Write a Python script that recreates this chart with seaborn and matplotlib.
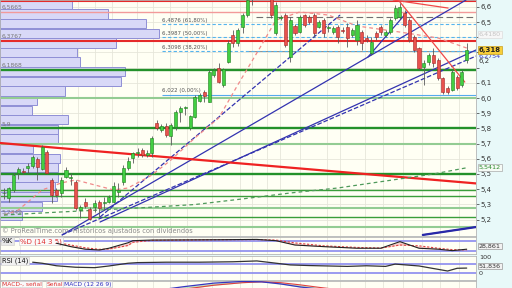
import matplotlib
matplotlib.use("Agg")
import matplotlib.pyplot as plt
import numpy as np
import pandas as pd
import seaborn as sns

sns.set_style("white")
plt.rcParams['font.family'] = ['DejaVu Sans', 'Liberation Sans']

# ---------------- price data (daily candles) ----------------
opens = [5.372, 5.342, 5.395, 5.507, 5.520, 5.540, 5.553, 5.599, 5.533, 5.645,
         5.461, 5.395, 5.375, 5.480, 5.474, 5.447, 5.263, 5.316, 5.270, 5.283,
         5.316, 5.309, 5.316, 5.316, 5.382, 5.447, 5.540, 5.605, 5.638, 5.658,
         5.625, 5.638, 5.836, 5.790, 5.816, 5.750, 5.809, 5.908, 5.934, 5.803,
         5.875, 5.980, 6.040, 5.974, 6.152, 6.198, 6.086, 6.237, 6.415, 6.362,
         6.467, 6.546, 6.711, 6.678, 6.763, 6.711, 6.698, 6.428, 6.527, 6.546,
         6.270, 6.474, 6.434, 6.546, 6.533, 6.546, 6.467, 6.513, 6.461, 6.434,
         6.467, 6.448, 6.467, 6.415, 6.382, 6.434, 6.395, 6.296, 6.428, 6.467,
         6.415, 6.434, 6.527, 6.533, 6.559, 6.513, 6.402, 6.329, 6.204, 6.237,
         6.283, 6.250, 6.132, 6.066, 6.053, 6.138, 6.086, 6.250]
highs = [5.408, 5.415, 5.507, 5.546, 5.540, 5.572, 5.625, 5.612, 5.691, 5.658,
         5.474, 5.408, 5.480, 5.546, 5.507, 5.461, 5.296, 5.342, 5.283, 5.329,
         5.329, 5.349, 5.362, 5.447, 5.441, 5.559, 5.612, 5.645, 5.671, 5.671,
         5.658, 5.750, 5.855, 5.829, 5.836, 5.836, 5.921, 5.948, 5.948, 5.888,
         6.020, 6.033, 6.053, 6.184, 6.198, 6.230, 6.198, 6.382, 6.448, 6.461,
         6.559, 6.665, 6.744, 6.829, 6.809, 6.829, 6.711, 6.632, 6.546, 6.559,
         6.533, 6.487, 6.546, 6.553, 6.546, 6.559, 6.513, 6.527, 6.481, 6.474,
         6.481, 6.467, 6.494, 6.461, 6.513, 6.448, 6.415, 6.402, 6.441, 6.481,
         6.448, 6.527, 6.612, 6.625, 6.579, 6.527, 6.415, 6.336, 6.250, 6.296,
         6.329, 6.263, 6.138, 6.079, 6.184, 6.152, 6.184, 6.362]
lows = [5.336, 5.316, 5.382, 5.467, 5.500, 5.507, 5.540, 5.461, 5.526, 5.500,
        5.309, 5.349, 5.349, 5.474, 5.428, 5.263, 5.211, 5.276, 5.197, 5.250,
        5.217, 5.263, 5.309, 5.309, 5.349, 5.428, 5.526, 5.572, 5.612, 5.612,
        5.612, 5.612, 5.790, 5.776, 5.744, 5.691, 5.790, 5.842, 5.888, 5.790,
        5.869, 5.974, 5.974, 5.974, 6.138, 6.099, 6.073, 6.230, 6.336, 6.342,
        6.428, 6.533, 6.612, 6.658, 6.678, 6.698, 6.527, 6.415, 6.513, 6.336,
        6.237, 6.415, 6.428, 6.467, 6.487, 6.402, 6.461, 6.402, 6.434, 6.421,
        6.362, 6.428, 6.336, 6.402, 6.349, 6.316, 6.369, 6.283, 6.382, 6.415,
        6.402, 6.421, 6.513, 6.520, 6.467, 6.369, 6.303, 6.184, 6.086, 6.217,
        6.204, 6.119, 6.026, 6.026, 6.046, 6.053, 6.073, 6.230]
closes = [5.375, 5.408, 5.494, 5.533, 5.513, 5.553, 5.612, 5.546, 5.678, 5.507,
          5.362, 5.362, 5.461, 5.526, 5.480, 5.276, 5.283, 5.290, 5.204, 5.309,
          5.276, 5.316, 5.349, 5.421, 5.395, 5.540, 5.586, 5.638, 5.645, 5.625,
          5.638, 5.737, 5.803, 5.816, 5.757, 5.822, 5.908, 5.934, 5.941, 5.882,
          6.007, 6.020, 6.013, 6.171, 6.184, 6.105, 6.191, 6.362, 6.362, 6.448,
          6.546, 6.645, 6.658, 6.777, 6.698, 6.809, 6.546, 6.612, 6.533, 6.349,
          6.513, 6.428, 6.533, 6.481, 6.500, 6.428, 6.500, 6.428, 6.467, 6.461,
          6.402, 6.441, 6.395, 6.448, 6.481, 6.362, 6.382, 6.369, 6.402, 6.434,
          6.434, 6.513, 6.592, 6.599, 6.481, 6.382, 6.316, 6.198, 6.230, 6.283,
          6.230, 6.132, 6.040, 6.040, 6.171, 6.066, 6.171, 6.318]

# ---------------- volume by price ----------------
vp_price = [6.615, 6.552, 6.489, 6.425, 6.362, 6.299, 6.236, 6.173, 6.110, 6.047,
            5.983, 5.920, 5.857, 5.794, 5.731, 5.668, 5.604, 5.541, 5.478, 5.415,
            5.352, 5.288, 5.225]
vp_volume = [72, 108, 146, 159, 116, 77, 80, 125, 121, 65,
             37, 32, 68, 58, 58, 33, 60, 58, 58, 55,
             57, 42, 22]
vp_label_price = [6.5665, 6.3767, 6.1868, 5.797, 5.217]
vp_label_text = ["6,5665", "6,3767", "6,1868", "5,9", "5,2349"]

# ---------------- horizontal levels ----------------
red_levels = [6.638, 6.3767]
light_red_levels = [6.5665]
green_levels = [6.1868, 5.8, 5.5, 5.395, 5.355, 5.217]
light_green_levels = [6.0, 5.7, 5.276, 5.151]
fib_levels = [6.4876, 6.3987, 6.3098, 6.022]
fib_text = ["6,4876 (61,80%)", "6,3987 (50,00%)", "6,3098 (38,20%)", "6,022 (0,00%)"]
fib_start = 33.1

# ---------------- trend lines (index, price) ----------------
blue_x0 = [12.16, 20.13, 20.13, 12.16, 76.3, 87.8]
blue_y0 = [5.099, 5.184, 5.217, 5.099, 6.270, 5.099]
blue_x1 = [96.86, 98.95, 70.44, 98.95, 84.5, 98.95]
blue_y1 = [6.645, 6.316, 6.546, 6.276, 6.566, 5.151]
blue_style = ['-', '-', '--', '--', '-', '-']
red_x0 = [-0.84, 83.0, 81.6]
red_y0 = [5.704, 6.632, 6.645]
red_x1 = [98.95, 96.6, 93.1]
red_y1 = [5.438, 6.105, 6.592]

# ---------------- moving averages ----------------
ma_short_idx = [0, 3, 8, 12, 15, 19, 23, 26, 31, 35, 40, 45, 49, 54, 57, 62, 68, 74, 83, 91, 97]
ma_short_val = [5.230, 5.263, 5.395, 5.441, 5.461, 5.428, 5.395, 5.408, 5.493, 5.592,
                5.737, 5.868, 6.086, 6.349, 6.513, 6.566, 6.546, 6.474, 6.434, 6.395, 6.329]
ma_long_idx = [0, 10, 20, 30, 40, 50, 60, 70, 80, 90, 97]
ma_long_val = [5.230, 5.247, 5.263, 5.280, 5.299, 5.336, 5.375, 5.408, 5.454, 5.500, 5.541]

# ---------------- indicators ----------------
stoch_idx = [11, 14, 17, 20, 22, 26, 27, 31, 45, 53, 57, 61, 67, 74, 79, 83, 87, 91, 94, 97]
stoch_k = [66, 45, 29, 24, 35, 69, 82, 86, 88, 90, 82, 55, 45, 35, 35, 76, 35, 29, 20, 29]
stoch_d = [70, 55, 38, 28, 30, 52, 72, 84, 88, 89, 86, 68, 50, 40, 36, 55, 50, 35, 26, 25]
rsi_idx = [6, 8, 11, 15, 19, 22, 26, 28, 34, 41, 48, 53, 56, 60, 64, 68, 72, 76, 80, 82,
           87, 91, 93, 95, 97]
rsi_val = [80, 75, 63, 56, 54, 62, 75, 78, 80, 80, 82, 86, 78, 67, 64, 62, 60, 63, 60, 71,
           62, 46, 38, 51, 52]
macd_idx = [30, 38, 44, 50, 54, 58, 62, 66, 72, 80, 90, 97]
macd_val = [-0.2, 0.4, 0.8, 1.0, 0.95, 0.7, 0.35, 0.1, -0.3, -0.6, -0.8, -0.7]
macd_sig = [-0.4, 0.1, 0.55, 0.85, 0.95, 0.85, 0.6, 0.3, -0.1, -0.4, -0.7, -0.75]

price_ticks = [5.2, 5.3, 5.4, 5.5, 5.6, 5.7, 5.8, 5.9, 6.0, 6.1, 6.2, 6.3, 6.4, 6.5, 6.6]
hidden_ticks = [6.2, 6.3, 6.4]
grid_idx = [3.4, 12.2, 15.5, 19.1, 22.6, 27.9, 31.2, 34.8, 38.4, 43.6, 49.5, 52.0,
            55.1, 57.9, 62.0, 67.7, 70.4, 75.7, 79.5, 83.6, 87.6, 91.4, 95.3]

# ---------------- figure ----------------
W, H = 512, 288
fig = plt.figure(figsize=(5.12, 2.88), dpi=100)
fig.patch.set_facecolor('#e8f9f9')


def rect(x0, y0, x1, y1):
    return [x0 / W, 1 - y1 / H, (x1 - x0) / W, (y1 - y0) / H]


ax = fig.add_axes(rect(0, 0, 476, 236))
ax2 = fig.add_axes(rect(0, 237, 476, 254), sharex=ax)
ax3 = fig.add_axes(rect(0, 256, 476, 280), sharex=ax)
ax4 = fig.add_axes(rect(0, 281, 476, 300), sharex=ax)
XL = (-0.84, 98.95)
bg = '#fffff4'
for a in (ax, ax2, ax3, ax4):
    a.set_facecolor(bg)
    for s in a.spines.values():
        s.set_color('#b5b5b5')
        s.set_linewidth(0.6)

# grid
ax.set_xticks(grid_idx)
ax.set_yticks(price_ticks)
ax.set_yticklabels(['' if t in hidden_ticks else f"{t:.1f}".replace('.', ',') for t in price_ticks])
ax.yaxis.tick_right()
ax.tick_params(axis='y', labelsize=5, colors='#333333', length=2, width=0.5, pad=1)
ax.tick_params(axis='x', bottom=False, labelbottom=False)
ax.grid(True, color='#e6e6da', lw=0.6)
ax.set_axisbelow(True)
ax.set_ylim(5.092, 6.645)
ax.set_xlim(*XL)

# volume profile
scale = (XL[1] - XL[0]) / 476.0
ax.barh(vp_price, [v * scale for v in vp_volume], left=XL[0], height=0.0615,
        color='#d8d8f7', edgecolor='#8f8fd6', linewidth=0.7, zorder=1)
for p, t in zip(vp_label_price, vp_label_text):
    ax.annotate(t, (XL[0] + 0.3, p), xytext=(0, 1.5), textcoords='offset points',
                fontsize=4.3, color='#777777', va='bottom', ha='left', zorder=6)

# horizontal levels
for lv in red_levels:
    ax.axhline(lv, color='#e52a2a', lw=1.5, zorder=2)
for lv in light_red_levels:
    ax.axhline(lv, color='#f29a9a', lw=1.0, zorder=2)
for lv in green_levels[:3]:
    ax.axhline(lv, color='#23912a', lw=1.7, zorder=2)
for lv in green_levels[3:]:
    ax.axhline(lv, color='#3a9e3a', lw=1.0, zorder=2)
for lv in light_green_levels:
    ax.axhline(lv, color='#93cc93', lw=1.5, zorder=2)

# fibonacci
ax.hlines(fib_levels[2], 51, XL[1], color='#909090', lw=0.7, zorder=2)
ax.hlines(6.533, 52.8, XL[1], color='#707070', lw=0.8, linestyles=(0, (6, 3)), zorder=2)
for lv, t in zip(fib_levels[:3], fib_text[:3]):
    ax.hlines(lv, fib_start, XL[1], color='#55b4ee', lw=0.8, linestyles=(0, (3, 2)), zorder=2)
    ax.annotate(t, (fib_start, lv), xytext=(0, 1), textcoords='offset points',
                fontsize=3.9, color='#555555', va='bottom', ha='left', zorder=6)
ax.hlines(fib_levels[3], fib_start, XL[1], color='#55aaee', lw=0.8, zorder=2)
ax.annotate(fib_text[3], (fib_start, fib_levels[3]), xytext=(0, 1), textcoords='offset points',
            fontsize=3.9, color='#555555', va='bottom', ha='left', zorder=6)

# trend lines
for x0, y0, x1, y1, st in zip(blue_x0, blue_y0, blue_x1, blue_y1, blue_style):
    ax.plot([x0, x1], [y0, y1], color='#3333b0', lw=0.9, ls=st, zorder=3)
ax.plot([blue_x0[5], blue_x1[5]], [blue_y0[5], blue_y1[5]], color='#2828a8', lw=1.6, zorder=3)
ax.plot([red_x0[0], red_x1[0]], [red_y0[0], red_y1[0]], color='#ef2222', lw=1.6, zorder=3)
for x0, y0, x1, y1 in zip(red_x0[1:], red_y0[1:], red_x1[1:], red_y1[1:]):
    ax.plot([x0, x1], [y0, y1], color='#f04848', lw=0.9, zorder=3)

# moving averages
sns.lineplot(x=ma_short_idx, y=ma_short_val, ax=ax, color='#f08a8a', lw=0.9,
             linestyle=(0, (3, 2.5)), zorder=3)
sns.lineplot(x=ma_long_idx, y=ma_long_val, ax=ax, color='#4e9a5a', lw=0.9,
             linestyle=(0, (3, 2.5)), zorder=3)

# candles
idx = np.arange(len(opens))
o = np.array(opens); c = np.array(closes); h = np.array(highs); l = np.array(lows)
up = c >= o
bottoms = np.minimum(o, c)
heights = np.maximum(np.abs(c - o), 0.004)
ax.vlines(idx, l, h, colors='#5a5a5a', lw=0.6, zorder=4)
ax.bar(idx, heights, bottom=bottoms, width=0.64,
       color=np.where(up, '#42cf42', '#e8534d'),
       edgecolor=np.where(up, '#1f7d1f', '#a52424'), linewidth=0.4, zorder=5)

ax.text(0.004, 6 / 236, "\u00a9 ProRealTime.com  Hist\u00f3ricos ajustados con dividendos",
        transform=ax.transAxes, fontsize=4.8, color='#8a8a8a', va='center', ha='left', zorder=6)

# right side price boxes
tr = ax.get_yaxis_transform()
ax.text(1.006, 6.245, "6,2", transform=tr, fontsize=5, color='#333333', va='center')
ax.text(1.006, 6.418, "6,4180", transform=tr, fontsize=4.6, color='#c4c4c4', va='center',
        bbox=dict(boxstyle='square,pad=0.15', fc='#f7f7f7', ec='#dddddd', lw=0.5))
ax.text(1.006, 6.318, "6,318", transform=tr, fontsize=5, color='#222222', va='center',
        fontweight='bold', bbox=dict(boxstyle='square,pad=0.15', fc='#f8cf3a', ec='#c9a020', lw=0.5),
        zorder=10)
ax.text(1.006, 6.272, "6,2754", transform=tr, fontsize=4.6, color='#3333bb', va='center')
ax.text(1.006, 5.5412, "5,5412", transform=tr, fontsize=4.6, color='#2c8a2c', va='center',
        bbox=dict(boxstyle='square,pad=0.15', fc='#f6fbf6', ec='#aaaaaa', lw=0.5))

# ---------------- stochastic ----------------
ax2.set_ylim(-1, 105)
ax2.axhline(80, color='#8a8aee', lw=1.2, zorder=1)
ax2.axhline(20, color='#8a8aee', lw=1.2, zorder=1)
ax2.fill_between(stoch_idx, stoch_k, stoch_d, color='#f4a4a4', alpha=0.55, lw=0, zorder=2)
sns.lineplot(x=stoch_idx, y=stoch_d, ax=ax2, color='#e04040', lw=0.8, linestyle=(0, (2, 1.5)), zorder=3)
sns.lineplot(x=stoch_idx, y=stoch_k, ax=ax2, color='#222222', lw=0.8, zorder=4)
ax2.text(0.004, 0.93, "%K", transform=ax2.transAxes, fontsize=5, color='#111111', va='top',
         bbox=dict(boxstyle='square,pad=0.1', fc='#e8e8e8', ec='#cccccc', lw=0.4))
ax2.text(0.042, 0.93, "%D (14 3 5)", transform=ax2.transAxes, fontsize=5, color='#e03030', va='top',
         bbox=dict(boxstyle='square,pad=0.1', fc='#fafafa', ec='#cccccc', lw=0.4))
ax2.text(1.006, 49, "28,861", transform=ax2.get_yaxis_transform(), fontsize=4.6, color='#333333',
         va='center', bbox=dict(boxstyle='square,pad=0.15', fc='#f2f2f2', ec='#999999', lw=0.5))

# ---------------- RSI ----------------
ax3.set_ylim(-4.8, 109.5)
ax3.axhline(70, color='#8a8aee', lw=1.2, zorder=1)
ax3.axhline(30, color='#8a8aee', lw=1.2, zorder=1)
sns.lineplot(x=rsi_idx, y=rsi_val, ax=ax3, color='#333333', lw=0.9, zorder=3)
ax3.text(0.004, 0.93, "RSI (14)", transform=ax3.transAxes, fontsize=4.8, color='#111111', va='top',
         bbox=dict(boxstyle='square,pad=0.1', fc='#f0f0f0', ec='#cccccc', lw=0.4))
tr3 = ax3.get_yaxis_transform()
ax3.text(1.006, 102, "100", transform=tr3, fontsize=4.6, color='#333333', va='center')
ax3.text(1.006, 26, "0", transform=tr3, fontsize=4.6, color='#333333', va='center')
ax3.text(1.006, 62, "51,836", transform=tr3, fontsize=4.6, color='#333333', va='center',
         bbox=dict(boxstyle='square,pad=0.15', fc='#f2f2f2', ec='#999999', lw=0.5))

# ---------------- MACD ----------------
ax4.set_ylim(-1.2, 1.05)
ax4.fill_between(macd_idx, macd_val, macd_sig, color='#9ad49a', alpha=0.6, lw=0)
sns.lineplot(x=macd_idx, y=macd_sig, ax=ax4, color='#e04040', lw=0.8, zorder=3)
sns.lineplot(x=macd_idx, y=macd_val, ax=ax4, color='#3535c0', lw=0.9, zorder=3)
ax4.text(0.004, 0.97, "MACD-, se\u00f1al", transform=ax4.transAxes, fontsize=4.3, color='#e03030',
         va='top', bbox=dict(boxstyle='square,pad=0.05', fc='#fafafa', ec='#cccccc', lw=0.4))
ax4.text(0.098, 0.97, "Se\u00f1al", transform=ax4.transAxes, fontsize=4.3, color='#e03030',
         va='top', bbox=dict(boxstyle='square,pad=0.05', fc='#fafafa', ec='#cccccc', lw=0.4))
ax4.text(0.134, 0.97, "MACD (12 26 9)", transform=ax4.transAxes, fontsize=4.3, color='#3030c0',
         va='top', bbox=dict(boxstyle='square,pad=0.05', fc='#fafafa', ec='#cccccc', lw=0.4))

for a in (ax2, ax3, ax4):
    a.set_yticks([])
    a.grid(True, axis='x', color='#e6e6da', lw=0.6)
    a.set_axisbelow(True)
    a.tick_params(axis='x', bottom=False, labelbottom=False)
for a in (ax, ax2, ax3, ax4):
    a.set_xlabel('')
    a.set_ylabel('')
    a.set_xlim(*XL)

fig.savefig("out.png", dpi=100, facecolor=fig.get_facecolor())
